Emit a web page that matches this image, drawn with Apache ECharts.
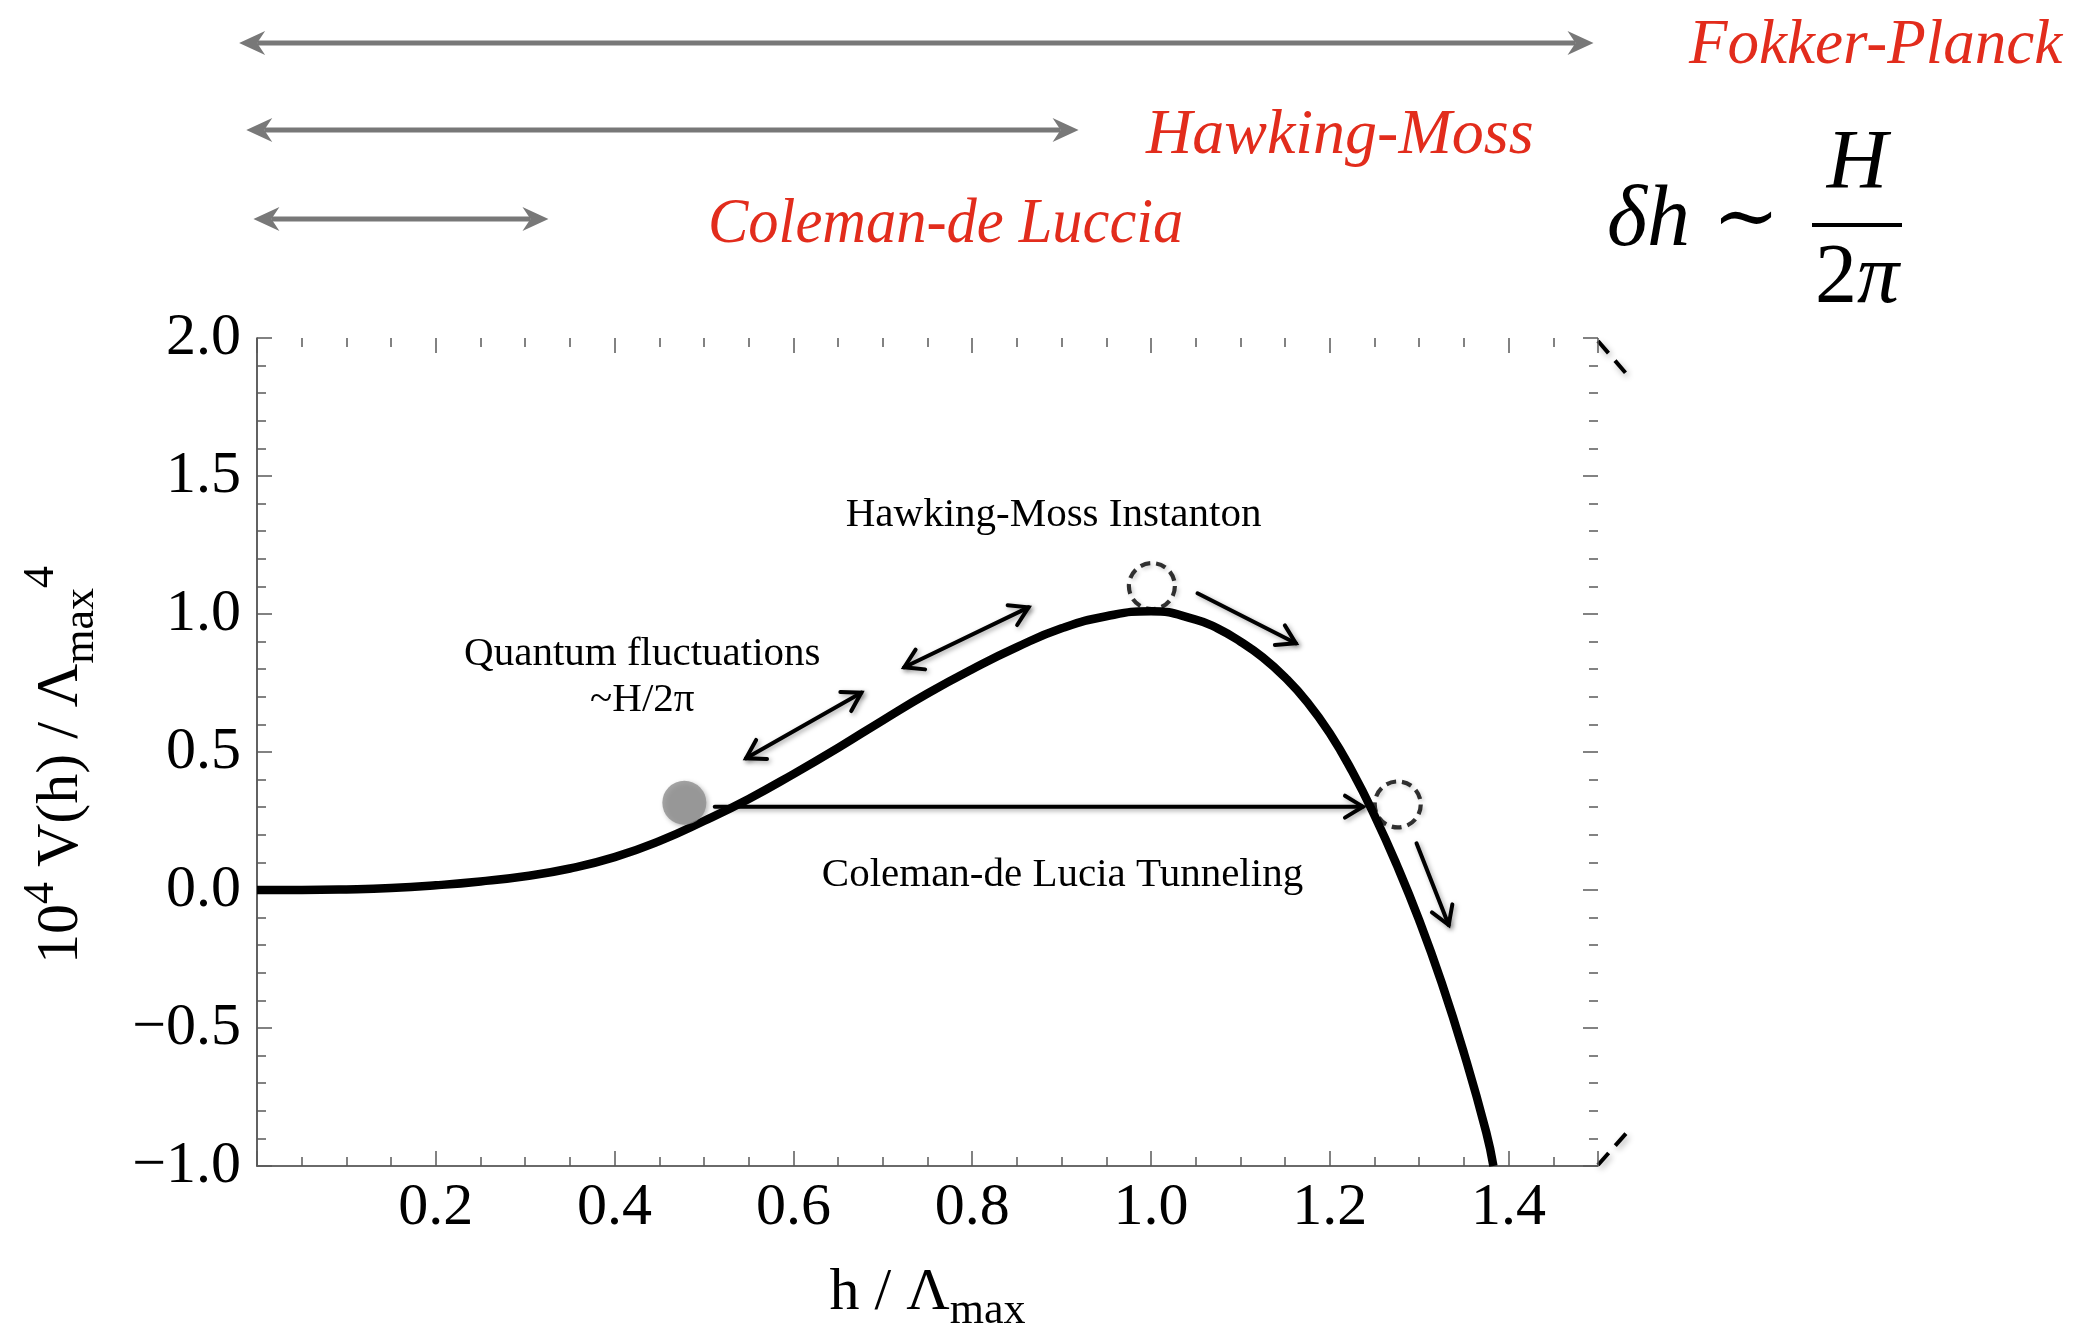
<!DOCTYPE html>
<html>
<head>
<meta charset="utf-8">
<style>
  html, body { margin: 0; padding: 0; background: #ffffff; }
  #chart { width: 2094px; height: 1323px; }
</style>
<script src="https://cdn.jsdelivr.net/npm/echarts@6/dist/echarts.min.js"></script>
</head>
<body>
<div id="chart"></div>
<script>
// Higgs-like potential 10^4 V(h)/Λmax^4 versus h/Λmax
const hValues = [0, 0.05, 0.10, 0.15, 0.20, 0.25, 0.30, 0.35, 0.40, 0.45, 0.50, 0.55, 0.60, 0.65, 0.70,
  0.75, 0.80, 0.85, 0.90, 0.95, 1.00, 1.05, 1.075, 1.10, 1.125, 1.15, 1.175, 1.20, 1.225, 1.25, 1.275,
  1.30, 1.325, 1.35, 1.375, 1.383];
const potentialValues = [0, 0.000, 0.002, 0.007, 0.017, 0.031, 0.050, 0.078, 0.119, 0.177, 0.250, 0.330, 0.420,
  0.515, 0.615, 0.712, 0.800, 0.880, 0.948, 0.992, 1.010, 0.980, 0.947, 0.900, 0.843, 0.770, 0.680, 0.568,
  0.430, 0.270, 0.090, -0.110, -0.335, -0.590, -0.878, -1.000];

// Axis ticks that carry labels
const xTickValues = [0.2, 0.4, 0.6, 0.8, 1.0, 1.2, 1.4];
const yTickValues = [-1.0, -0.5, 0.0, 0.5, 1.0, 1.5, 2.0];

// Field configurations drawn on the potential
const falseVacuumBall = [[0.478, 0.316]];
const transitionStates = [[1.001, 1.101], [1.276, 0.310]];

// Arrows: [h1, V1, h2, V2, heads] (1 = head at end, 2 = heads at both ends)
const arrowSegments = [
  [0.512, 0.302, 1.237, 0.302, 1],
  [0.547, 0.477, 0.676, 0.715, 2],
  [0.724, 0.807, 0.863, 1.024, 2],
  [1.052, 1.075, 1.162, 0.894, 1],
  [1.297, 0.169, 1.333, -0.127, 1]
];

// In-plot annotations
const annotationTexts = ['Hawking-Moss Instanton', 'Quantum fluctuations\n~H/2π', 'Coleman-de Lucia Tunneling'];
const annotationAnchors = [[0.891, 1.359], [0.431, 0.772], [0.901, 0.054]];

// Regimes of validity, as ranges of h/Λmax
const regimeNames = ['Fokker-Planck', 'Hawking-Moss', 'Coleman-de Luccia'];
const regimeRanges = [[-0.02, 1.495], [-0.012, 0.919], [-0.004, 0.326]];

const SERIF = '"Liberation Serif", "DejaVu Serif", serif';
const AXIS_COLOR = '#3a3a3a';
const TICK_COLOR = '#5a5a5a';

const near = (list, v) => list.some(t => Math.abs(t - v) < 1e-6);
const fmtNum = v => v.toFixed(1).replace('-', '\u2212');

function xAxisDef(position, interval, tickLen, withLabels) {
  const ax = {
    type: 'value', min: 0, max: 1.5, interval: interval, position: position,
    axisLine: { show: withLabels, onZero: false, lineStyle: { color: AXIS_COLOR, width: 1.6 } },
    axisTick: { show: true, inside: true, length: tickLen, lineStyle: { color: TICK_COLOR, width: 1.5 } },
    axisLabel: { show: false },
    splitLine: { show: false }
  };
  if (withLabels && position === 'bottom') {
    ax.axisLabel = {
      show: true, margin: 12, color: '#000', fontFamily: SERIF, fontSize: 60,
      formatter: v => near(xTickValues, v) ? fmtNum(v) : ''
    };
    ax.name = 'h / Λ{sub|max}';
    ax.nameLocation = 'middle';
    ax.nameGap = 87;
    ax.nameTextStyle = {
      color: '#000', fontFamily: SERIF, fontSize: 60, lineHeight: 80,
      rich: { sub: { fontFamily: SERIF, fontSize: 44, lineHeight: 54, verticalAlign: 'bottom', color: '#000' } }
    };
  }
  return ax;
}

function yAxisDef(position, interval, tickLen, withLabels) {
  const ax = {
    type: 'value', min: -1, max: 2, interval: interval, position: position,
    axisLine: { show: withLabels, onZero: false, lineStyle: { color: AXIS_COLOR, width: 1.6 } },
    axisTick: { show: true, inside: true, length: tickLen, lineStyle: { color: TICK_COLOR, width: 1.5 } },
    axisLabel: { show: false },
    splitLine: { show: false }
  };
  if (withLabels && position === 'left') {
    ax.axisLabel = {
      show: true, margin: 16, color: '#000', fontFamily: SERIF, fontSize: 60,
      formatter: v => near(yTickValues, v) ? fmtNum(v) : ''
    };
    ax.name = '10{sup|4} V(h) / Λ{sub|max}{sup|4}';
    ax.nameLocation = 'middle';
    ax.nameRotate = 90;
    ax.nameGap = 154;
    ax.nameTextStyle = {
      color: '#000', fontFamily: SERIF, fontSize: 60, lineHeight: 84, padding: [0, 26, 0, 0],
      rich: {
        sub: { fontFamily: SERIF, fontSize: 44, lineHeight: 44, verticalAlign: 'bottom', color: '#000' },
        sup: { fontFamily: SERIF, fontSize: 44, lineHeight: 58, verticalAlign: 'top', color: '#000' }
      }
    };
  }
  return ax;
}

const shadow = { shadowBlur: 5, shadowColor: 'rgba(0,0,0,0.35)', shadowOffsetX: 2, shadowOffsetY: 2 };

function renderArrow(params, api) {
  const p1 = api.coord([api.value(0), api.value(1)]);
  const p2 = api.coord([api.value(2), api.value(3)]);
  const both = api.value(4) === 2;
  const stroke = Object.assign({ stroke: '#000', lineWidth: 4, lineCap: 'round', lineJoin: 'miter', fill: null }, shadow);
  const head = (tip, from) => {
    const a = Math.atan2(tip[1] - from[1], tip[0] - from[0]);
    const len = 21, s = 0.55;
    return {
      type: 'polyline',
      shape: { points: [
        [tip[0] - len * Math.cos(a - s), tip[1] - len * Math.sin(a - s)],
        [tip[0], tip[1]],
        [tip[0] - len * Math.cos(a + s), tip[1] - len * Math.sin(a + s)]
      ] },
      style: stroke
    };
  };
  const children = [
    { type: 'line', shape: { x1: p1[0], y1: p1[1], x2: p2[0], y2: p2[1] }, style: stroke },
    head(p2, p1)
  ];
  if (both) children.push(head(p1, p2));
  return { type: 'group', children: children };
}

function renderNote(params, api) {
  const p = api.coord([api.value(0), api.value(1)]);
  return {
    type: 'text', x: p[0], y: p[1],
    style: {
      text: annotationTexts[params.dataIndex], fill: '#000', font: '41px ' + SERIF,
      lineHeight: 46, align: 'center', verticalAlign: 'middle'
    }
  };
}

const chart = echarts.init(document.getElementById('chart'));

chart.setOption({
  animation: false,
  backgroundColor: '#ffffff',
  grid: { left: 257, top: 338, width: 1341, height: 828, containLabel: false, outerBoundsMode: 'none' },
  xAxis: [
    xAxisDef('bottom', 0.2, 15, true),
    xAxisDef('bottom', 0.05, 9, false),
    xAxisDef('top', 0.2, 15, false),
    xAxisDef('top', 0.05, 9, false)
  ],
  yAxis: [
    yAxisDef('left', 0.5, 15, true),
    yAxisDef('left', 0.1, 9, false),
    yAxisDef('right', 0.5, 15, false),
    yAxisDef('right', 0.1, 9, false)
  ],
  series: [
    {
      name: 'V(h)', type: 'line', xAxisIndex: 0, yAxisIndex: 0,
      data: hValues.map((h, i) => [h, potentialValues[i]]),
      showSymbol: false, smooth: 0.5, silent: true, z: 3,
      lineStyle: { color: '#000', width: 8.5 }
    },
    {
      name: 'false vacuum', type: 'scatter', xAxisIndex: 0, yAxisIndex: 0,
      data: falseVacuumBall, symbol: 'circle', symbolSize: 44, silent: true, z: 4,
      itemStyle: Object.assign({ color: '#8e8e8e' }, shadow)
    },
    {
      name: 'bubble', type: 'scatter', xAxisIndex: 0, yAxisIndex: 0,
      data: transitionStates, symbol: 'circle', symbolSize: 46, silent: true, z: 4,
      itemStyle: { color: 'rgba(255,255,255,0)', borderColor: '#000', borderWidth: 4.2, borderType: [10, 6],
        shadowBlur: 4, shadowColor: 'rgba(0,0,0,0.25)', shadowOffsetX: 2, shadowOffsetY: 2 }
    },
    {
      name: 'arrows', type: 'custom', xAxisIndex: 0, yAxisIndex: 0,
      data: arrowSegments, renderItem: renderArrow, silent: true, z: 5, clip: false
    },
    {
      name: 'notes', type: 'custom', xAxisIndex: 0, yAxisIndex: 0,
      data: annotationAnchors, renderItem: renderNote, silent: true, z: 6, clip: false
    }
  ]
});

// Regime bars above the plot, spanning their h ranges
const toPx = h => chart.convertToPixel({ xAxisIndex: 0 }, h);
const rowY = [43, 130, 219];
const nameLeft = [1689, 1146, 708];
const nameMidY = [46, 136, 225];
const nameScaleX = [0.985, 1.0, 0.945];
const gray = '#787878';

function doubleArrow(x1, x2, y) {
  const L = 26, W = 12, N = 18;
  return {
    type: 'group', silent: true, children: [
      { type: 'line', shape: { x1: x1 + N, y1: y, x2: x2 - N, y2: y }, style: { stroke: gray, lineWidth: 5 } },
      { type: 'polygon', shape: { points: [[x1, y], [x1 + L, y - W], [x1 + N, y], [x1 + L, y + W]] }, style: { fill: gray } },
      { type: 'polygon', shape: { points: [[x2, y], [x2 - L, y - W], [x2 - N, y], [x2 - L, y + W]] }, style: { fill: gray } }
    ]
  };
}

const graphics = [];
regimeRanges.forEach((r, i) => {
  graphics.push(doubleArrow(toPx(r[0]), toPx(r[1]), rowY[i]));
  graphics.push({
    type: 'text', silent: true, x: nameLeft[i], y: nameMidY[i], scaleX: nameScaleX[i],
    style: { text: regimeNames[i], fill: '#e22c1c', font: 'italic 64px ' + SERIF, align: 'left', verticalAlign: 'middle' }
  });
});

// δh ~ H / 2π
graphics.push(
  { type: 'text', silent: true, x: 1607, y: 222, style: { text: 'δh', fill: '#000', font: 'italic 86px ' + SERIF, align: 'left', verticalAlign: 'middle' } },
  { type: 'text', silent: true, x: 1746, y: 222, style: { text: '\u223C', fill: '#000', font: '80px ' + SERIF, align: 'center', verticalAlign: 'middle' } },
  { type: 'text', silent: true, x: 1857, y: 166, style: { text: 'H', fill: '#000', font: 'italic 84px ' + SERIF, align: 'center', verticalAlign: 'middle' } },
  { type: 'rect', silent: true, shape: { x: 1812, y: 223, width: 90, height: 4 }, style: { fill: '#000' } },
  { type: 'text', silent: true, x: 1857, y: 280, style: { text: '2{i|π}', fill: '#000', font: '84px ' + SERIF, align: 'center', verticalAlign: 'middle',
      rich: { i: { font: 'italic 84px ' + SERIF, fill: '#000' } } } }
);

// dashed edge markers beside the right frame
const dashStyle = { stroke: '#000', lineWidth: 4, lineDash: [16, 10], lineCap: 'butt',
  shadowBlur: 6, shadowColor: 'rgba(0,0,0,0.3)', shadowOffsetX: 2, shadowOffsetY: 3 };
graphics.push(
  { type: 'line', silent: true, shape: { x1: 1598, y1: 341, x2: 1630, y2: 378 }, style: dashStyle },
  { type: 'line', silent: true, shape: { x1: 1598, y1: 1165, x2: 1630, y2: 1129 }, style: dashStyle }
);

chart.setOption({ graphic: graphics });
</script>
</body>
</html>
